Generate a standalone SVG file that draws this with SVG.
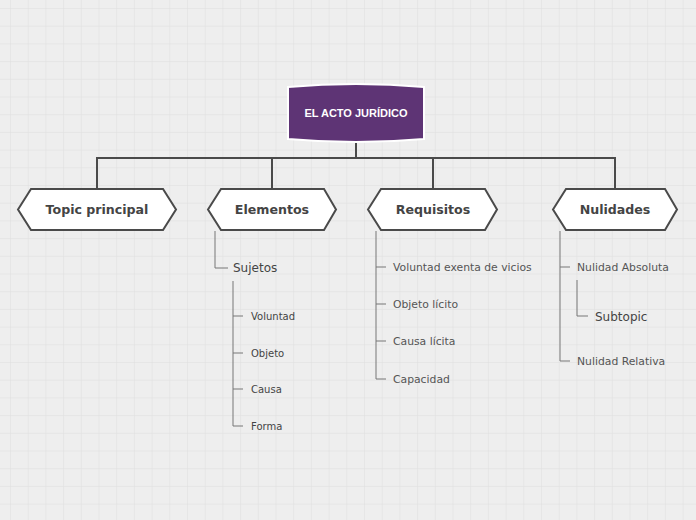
<svg xmlns="http://www.w3.org/2000/svg" width="696" height="520" viewBox="0 0 696 520">
<defs>
<pattern id="grid" x="10" y="8" width="17.7" height="17.7" patternUnits="userSpaceOnUse">
<path d="M0 0H17.7M0 0V17.7" fill="none" stroke="#dedede" stroke-width="1"/>
</pattern>
<style>
.hex{fill:#fff;stroke:#4a4a4a;stroke-width:2}
.ht{font-family:"DejaVu Sans",sans-serif;font-weight:bold;font-size:12.6px;fill:#444;text-anchor:middle}
.main{fill:none;stroke:#4a4a4a;stroke-width:2}
.sub{fill:none;stroke:#777;stroke-width:1}
.t11{font-family:"DejaVu Sans",sans-serif;font-size:10.8px;fill:#555}
.t10{font-family:"DejaVu Sans",sans-serif;font-size:10px;fill:#444}
.t12{font-family:"DejaVu Sans",sans-serif;font-size:12px;fill:#444}
</style>
</defs>
<rect width="696" height="520" fill="#eeeeee"/>
<rect width="696" height="520" fill="url(#grid)"/>
<g id="connectors">
<path class="main" d="M356 142V158M97 189V158H615V189M272 158V189M433 158V189"/>
<path class="sub" d="M215 231V268H228"/>
<path class="sub" d="M233 281V426H243M233 316H243M233 353H243M233 389H243"/>
<path class="sub" d="M376 231V379H386M376 267H386M376 304H386M376 341H386"/>
<path class="sub" d="M560 231V361H570M560 267H570"/>
<path class="sub" d="M577 280V316H588"/>
</g>
<g id="root">
<path d="M288 87Q356 81 424 87V139Q356 145 288 139Z" fill="#5e3475" stroke="#fff" stroke-width="2"/>
<text x="356" y="117" font-family="Liberation Sans,Arial,sans-serif" font-weight="bold" font-size="11" fill="#fff" text-anchor="middle">EL ACTO JURÍDICO</text>
</g>
<g id="topic"><polygon class="hex" points="18,209.5 31,189 163,189 176,209.5 163,230 31,230"/><text class="ht" x="97" y="214">Topic principal</text></g>
<g id="elementos"><polygon class="hex" points="208,209.5 221,189 324,189 336,209.5 324,230 221,230"/><text class="ht" x="272" y="214">Elementos</text></g>
<g id="requisitos"><polygon class="hex" points="368,209.5 381,189 485,189 497,209.5 485,230 381,230"/><text class="ht" x="433" y="214">Requisitos</text></g>
<g id="nulidades"><polygon class="hex" points="553,209.5 566,189 665,189 677,209.5 665,230 566,230"/><text class="ht" x="615" y="214">Nulidades</text></g>
<g id="sujetos"><text class="t12" x="233" y="272">Sujetos</text></g>
<g id="voluntad"><text class="t10" x="251" y="320">Voluntad</text></g>
<g id="objeto"><text class="t10" x="251" y="357">Objeto</text></g>
<g id="causa"><text class="t10" x="251" y="393">Causa</text></g>
<g id="forma"><text class="t10" x="251" y="430">Forma</text></g>
<g id="r1"><text class="t11" x="393" y="271">Voluntad exenta de vicios</text></g>
<g id="r2"><text class="t11" x="393" y="308">Objeto lícito</text></g>
<g id="r3"><text class="t11" x="393" y="345">Causa lícita</text></g>
<g id="r4"><text class="t11" x="393" y="383">Capacidad</text></g>
<g id="n1"><text class="t11" x="577" y="271">Nulidad Absoluta</text></g>
<g id="n2"><text class="t11" x="577" y="365">Nulidad Relativa</text></g>
<g id="subtopic"><text class="t12" x="595" y="321">Subtopic</text></g>
</svg>
